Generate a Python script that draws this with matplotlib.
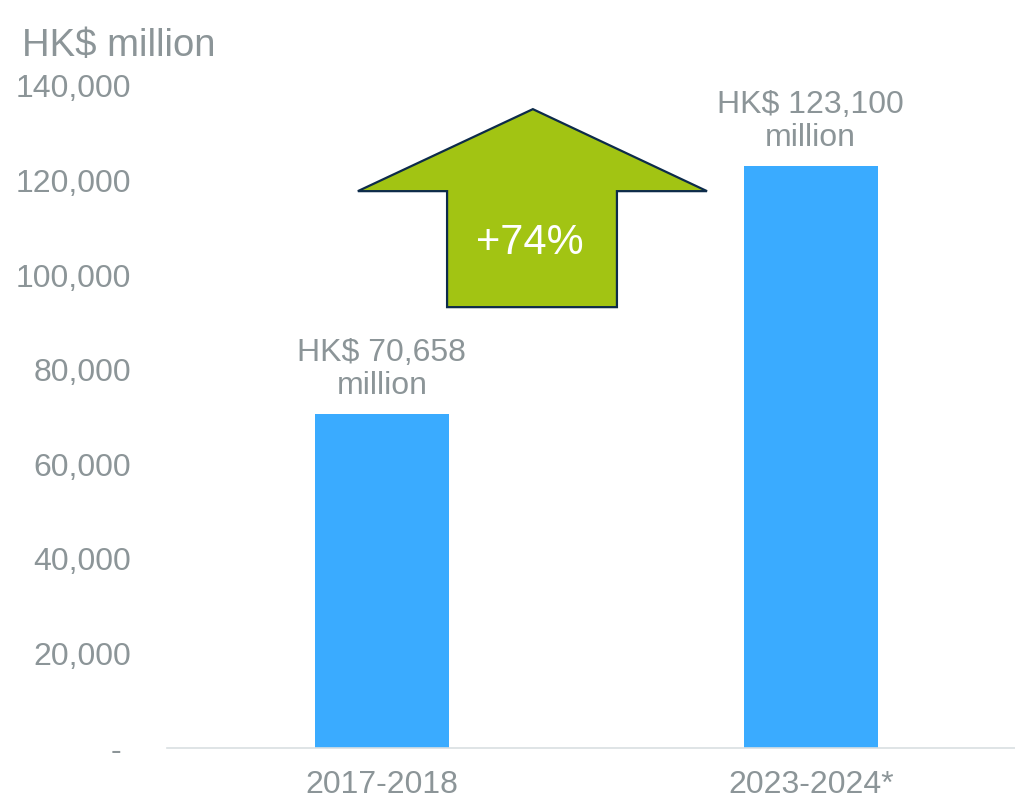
import matplotlib
matplotlib.use("Agg")
import matplotlib.pyplot as plt
from matplotlib.patches import Polygon
from matplotlib.ticker import FuncFormatter

periods = ["2017-2018", "2023-2024*"]
values = [70658, 123100]
y_ticks = [0, 20000, 40000, 60000, 80000, 100000, 120000, 140000]

grey = "#8c9598"
bar_blue = "#3aabff"

plt.rcParams["font.family"] = ["Liberation Sans", "DejaVu Sans"]

fig = plt.figure(figsize=(10.15, 8.02), dpi=100)
ax = fig.add_axes([0.1645, 0.0673, 0.8355, 0.8255])

x = list(range(len(periods)))
ax.bar(x, values, width=0.312, color=bar_blue, zorder=2)

ax.set_xlim(-0.501, 1.476)
ax.set_ylim(0, 140000)
ax.set_yticks(y_ticks)
ax.yaxis.set_major_formatter(FuncFormatter(lambda v, p: "- " if v == 0 else f"{int(v):,}"))
ax.set_xticks(x)
ax.set_xticklabels(periods)

ax.tick_params(axis="y", length=0, pad=26, labelsize=23, labelcolor=grey)
ax.tick_params(axis="x", length=0, pad=16, labelsize=23, labelcolor=grey)

for side in ["top", "right", "left"]:
    ax.spines[side].set_visible(False)
ax.spines["bottom"].set_color("#d9dfe1")
ax.spines["bottom"].set_linewidth(1.2)

# value labels above the bars
for xi, v in zip(x, values):
    ax.annotate(f"HK$ {v:,}\nmillion", (xi, v), xytext=(0, 9), textcoords="offset points",
                ha="center", va="bottom", fontsize=23, color=grey, linespacing=1.13)

# growth arrow between the two periods
growth = (values[1] / values[0] - 1) * 100
arrow = Polygon([(0.352, 135100), (0.758, 117760), (0.548, 117760), (0.548, 93230),
                 (0.152, 93230), (0.152, 117760), (-0.056, 117760)],
                closed=True, facecolor="#a2c413", edgecolor="#0d2b4a", linewidth=1.6,
                zorder=3, clip_on=False)
ax.add_patch(arrow)
ax.text(0.345, 106700, f"+{growth:.0f}%", ha="center", va="center",
        fontsize=30, color="white", zorder=4)

fig.text(22 / 1015, 1 - 46 / 802, "HK$ million", ha="left", va="center",
         fontsize=27.5, color=grey)

fig.savefig("out.png", dpi=100)
